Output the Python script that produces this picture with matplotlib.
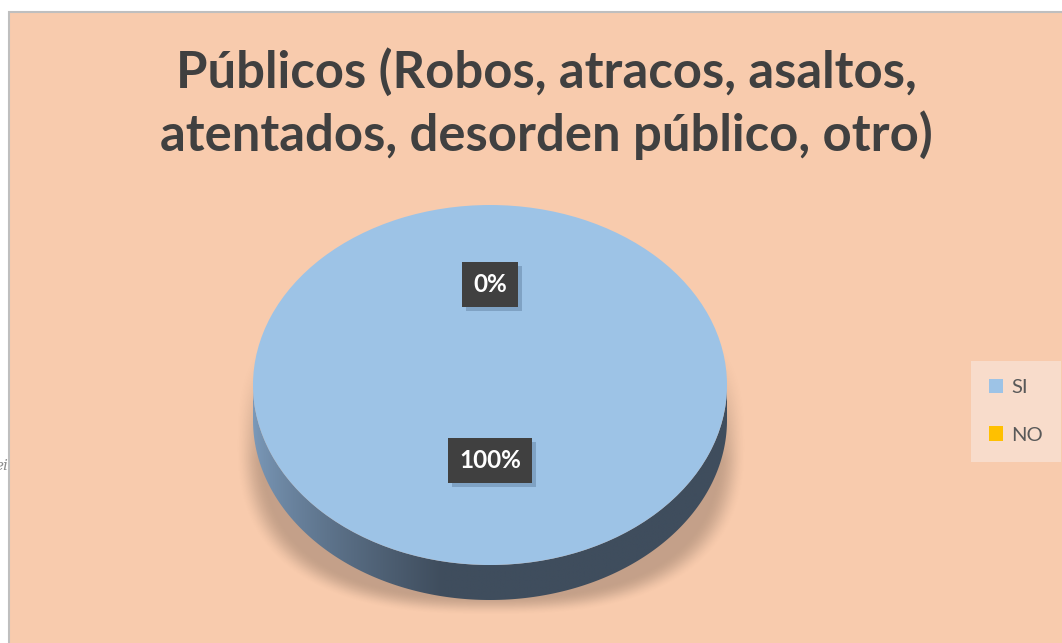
import numpy as np
import matplotlib
matplotlib.use('Agg')
import matplotlib.pyplot as plt
from matplotlib.patches import Rectangle, Polygon
import matplotlib.patheffects as pe

# ---- data ----
categories = ['SI', 'NO']
values = [100, 0]
pct_labels = ['100%', '0%']
colors = ['#9DC3E6', '#FFC000']
title_lines = ['Públicos (Robos, atracos, asaltos,',
               'atentados, desorden público, otro)']

W, H = 1062, 643
fig = plt.figure(figsize=(W / 100, H / 100), dpi=100)
fig.patch.set_facecolor('white')

# ---- background / frame / shadow ----
bg = fig.add_axes([0, 0, 1, 1])
bg.axis('off')
bg.add_patch(Rectangle((9, 12), W, H, facecolor='#F8CBAD',
                       edgecolor='#BFBFBF', linewidth=1.5, zorder=0))

yy, xx = np.mgrid[0:H, 0:W] + 0.5
cx, cy, rx, ry, p = 491, 438, 256, 178, 2.6
r = (np.abs((xx - cx) / rx) ** p + np.abs((yy - cy) / ry) ** p) ** (1 / p)
a = np.clip((1.0 - r) / 0.11, 0, 1)
a = a * a * (3 - 2 * a)
fade = np.clip((yy - 330) / 130, 0, 1)
img = np.zeros((H, W, 4))
img[..., 3] = 0.21 * a * fade
bg.imshow(img, extent=(0, W, H, 0), zorder=1, interpolation='bilinear')
bg.text(8, 466, 'ei', ha='right', va='center', fontsize=11, style='italic',
        color='#8C8C8C', family='DejaVu Serif')
bg.set_aspect('auto')
bg.set_xlim(0, W)
bg.set_ylim(H, 0)

# ---- title ----
title_y = [72, 135]
for line, y in zip(title_lines, title_y):
    fig.text(546 / W, 1 - y / H, line, ha='center', va='center',
             fontsize=36.5, fontweight='bold', family='Lato', color='#404040')

# ---- pie ----
px0, py0, pw, ph, depth_px = 253, 205, 474, 360, 35
d = depth_px / (ph / 2)
ax = fig.add_axes([px0 / W, 1 - (py0 + ph + depth_px) / H, pw / W, (ph + depth_px) / H])
ax.patch.set_alpha(0)
wedges, _ = ax.pie(values, colors=colors, startangle=90, counterclock=False,
                   radius=1, wedgeprops=dict(linewidth=0), normalize=True)
for w in wedges:
    w.set_zorder(2)

# side wall with gradient
gx = np.linspace(-1, 1, 600)
t = np.clip((gx + 1) / 0.8, 0, 1) ** 0.75
left = np.array([124, 154, 186]) / 255
dark = np.array([63, 77, 93]) / 255
grad = (left[None, :] * (1 - t[:, None]) + dark[None, :] * t[:, None])[None, :, :]

for w in wedges:
    if w.theta2 - w.theta1 <= 0:
        continue
    th = np.deg2rad(np.linspace(w.theta1, w.theta2, 720))
    th = th[np.sin(th) <= 1e-9]
    if th.size < 2:
        continue
    th = np.sort(th)
    xs, ys = np.cos(th), np.sin(th)
    pts = np.concatenate([np.column_stack([xs, ys]),
                          np.column_stack([xs[::-1], ys[::-1] - d])])
    poly = Polygon(pts, closed=True, facecolor='none', edgecolor='none')
    ax.add_patch(poly)
    im = ax.imshow(grad, extent=(-1, 1, -1 - d, 0), aspect='auto', zorder=1,
                   interpolation='bilinear')
    im.set_clip_path(poly)

ax.set_aspect('auto')
ax.set_xlim(-1, 1)
ax.set_ylim(-1 - d, 1)
ax.axis('off')

# data labels
label_r = [0.42, 0.56]
for w, lab, rr in zip(wedges, pct_labels, label_r):
    ang = np.deg2rad((w.theta1 + w.theta2) / 2)
    txt = ax.text(rr * np.cos(ang), rr * np.sin(ang), lab, ha='center', va='center',
                  color='white', fontsize=17.5, fontweight='bold', family='Lato',
                  bbox=dict(boxstyle='square,pad=0.45', fc='#404040', ec='none'),
                  zorder=5)
    txt.get_bbox_patch().set_path_effects([
        pe.SimplePatchShadow(offset=(3, -3), shadow_rgbFace='#3A5878', alpha=0.3),
        pe.Normal()])

# legend
leg = fig.legend(wedges, categories, loc='upper left',
                 bbox_to_anchor=(971 / W, 1 - 361 / H), frameon=True, fancybox=False,
                 facecolor='#F8DCCB', edgecolor='none', framealpha=1,
                 prop=dict(family='Lato', size=14.5), labelcolor='#595959',
                 handlelength=0.7, handleheight=0.7, handletextpad=0.4,
                 labelspacing=1.5, borderpad=0.9, borderaxespad=0)

fig.savefig('out.png', dpi=100, facecolor=fig.get_facecolor())
